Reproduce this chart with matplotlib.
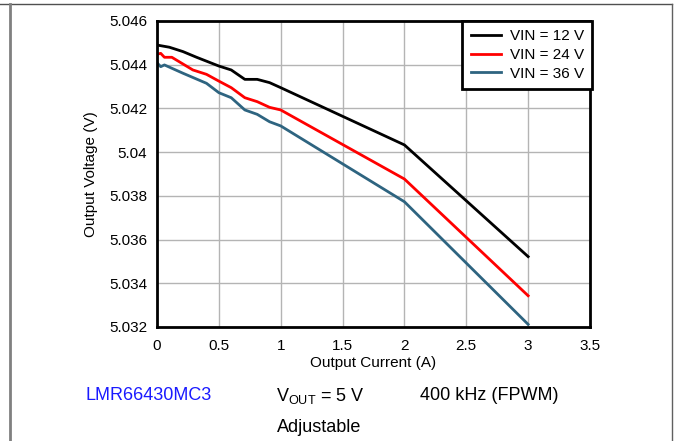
import numpy as np
import matplotlib.pyplot as plt
from matplotlib.lines import Line2D

plt.rcParams['font.family'] = ['Liberation Sans', 'DejaVu Sans']

# DATA
i_out = [0.0, 0.1, 0.21, 0.32, 0.5, 0.6, 0.71, 0.81, 0.91, 1.0, 2.0, 3.0]
v_12 = [5.0449, 5.04480, 5.0446, 5.04434, 5.04394, 5.04376, 5.04333, 5.04333,
        5.04318, 5.04295, 5.04033, 5.03522]

i_24 = [0.0, 0.03, 0.06, 0.12, 0.29, 0.4, 0.5, 0.6, 0.71, 0.81, 0.91, 1.0, 2.0, 3.0]
v_24 = [5.04448, 5.04452, 5.04434, 5.04434, 5.04376, 5.04356, 5.04325, 5.04295,
        5.04249, 5.04231, 5.04205, 5.04193, 5.03877, 5.03343]

i_36 = [0.0, 0.03, 0.06, 0.21, 0.4, 0.5, 0.6, 0.71, 0.81, 0.91, 1.0, 2.0, 3.0]
v_36 = [5.04409, 5.04391, 5.04399, 5.04361, 5.04315, 5.04272, 5.04249, 5.04193,
        5.04173, 5.04139, 5.0412, 5.03773, 5.03212]

labels = ['VIN = 12 V', 'VIN = 24 V', 'VIN = 36 V']
colors = ['#000000', '#ff0000', '#2e6480']

xticks = [0, 0.5, 1, 1.5, 2, 2.5, 3, 3.5]
xticklabels = ['0', '0.5', '1', '1.5', '2', '2.5', '3', '3.5']
yticks = [5.032, 5.034, 5.036, 5.038, 5.04, 5.042, 5.044, 5.046]
yticklabels = ['5.032', '5.034', '5.036', '5.038', '5.04', '5.042', '5.044', '5.046']

# PLOT
fig = plt.figure(figsize=(6.76, 4.41), dpi=100)
ax = fig.add_axes([157/676, 1 - 327/441, 433/676, 306/441])

ax.plot(i_out, v_12, color=colors[0], lw=2, label=labels[0])
ax.plot(i_24, v_24, color=colors[1], lw=2, label=labels[1])
ax.plot(i_36, v_36, color=colors[2], lw=2, label=labels[2])

ax.set_xlim(0, 3.5)
ax.set_ylim(5.032, 5.046)
ax.set_xticks(xticks)
ax.set_xticklabels(xticklabels)
ax.set_yticks(yticks)
ax.set_yticklabels(yticklabels)
ax.tick_params(length=0, labelsize=11)
ax.tick_params(axis='x', pad=9)
ax.tick_params(axis='y', pad=7)
ax.grid(True, color='#b4b4b4', lw=1)
ax.set_axisbelow(True)
for s in ax.spines.values():
    s.set_linewidth(2)
ax.set_xlabel('Output Current (A)', fontsize=11, labelpad=2)
ax.set_ylabel('Output Voltage (V)', fontsize=11, labelpad=8)

leg = ax.legend(loc='upper right', bbox_to_anchor=(1.005, 1.0), fontsize=11,
                fancybox=False, framealpha=1, edgecolor='black',
                handlelength=2.0, handletextpad=0.55, borderpad=0.55,
                labelspacing=0.3, borderaxespad=0)
leg.get_frame().set_linewidth(2)

# captions under the chart
fig.text(149/676, 1 - 396/441, 'LMR66430MC3', color='#1a1aff', fontsize=13,
         ha='center', va='center')
fig.text(320/676, 1 - 396/441, r'V$_{\mathregular{OUT}}$ = 5 V', fontsize=13,
         ha='center', va='center')
fig.text(319/676, 1 - 427/441, 'Adjustable', fontsize=13, ha='center', va='center')
fig.text(489/676, 1 - 396/441, '400 kHz (FPWM)', fontsize=13,
         ha='center', va='center')

# page frame lines
fig.add_artist(Line2D([0, 672/676], [1 - 4/441, 1 - 4/441], color='#505050', lw=1))
fig.add_artist(Line2D([10/676, 10/676], [0, 1 - 4/441], color='#808080', lw=2))
fig.add_artist(Line2D([672/676, 672/676], [0, 1 - 4/441], color='#606060', lw=1))

plt.savefig('out.png', dpi=100)
